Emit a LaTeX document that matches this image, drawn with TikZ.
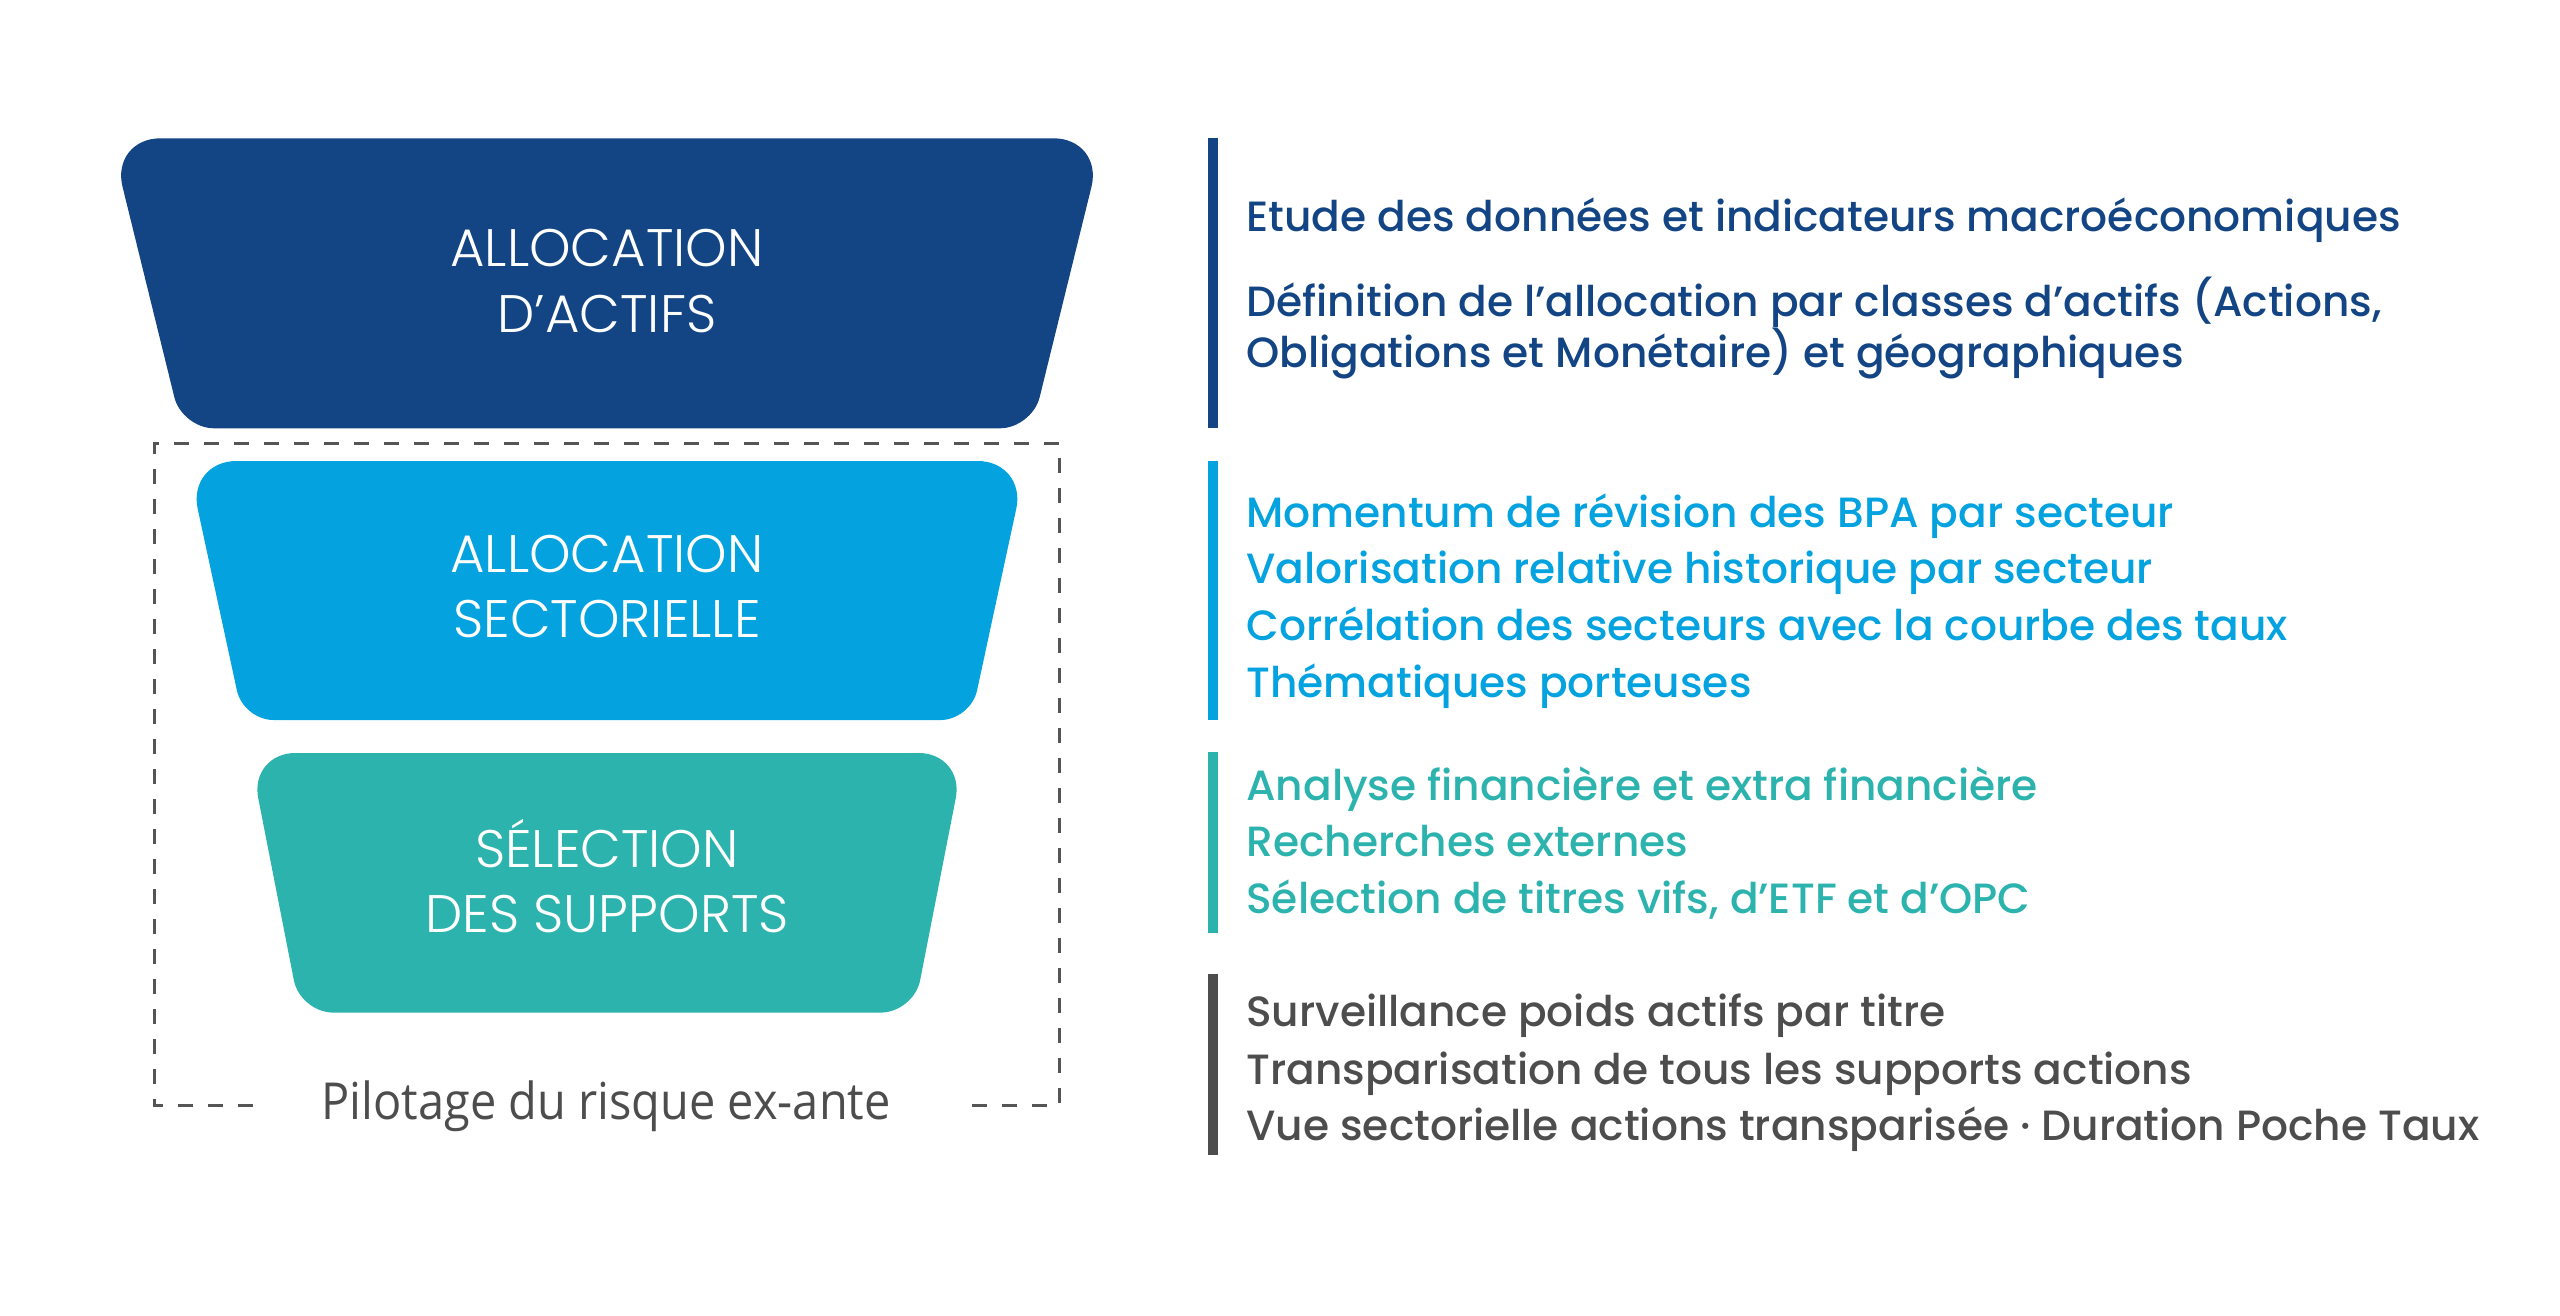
\documentclass[tikz,border=0pt]{standalone}
\usepackage{fontspec}
\setmainfont{Poppins Medium}
\newfontfamily\boxfont{Poppins Light}
\newfontfamily\pilfont{Open Sans}[FakeStretch=0.92]
\definecolor{navy}{HTML}{134585}
\definecolor{sky}{HTML}{04A3E0}
\definecolor{tealc}{HTML}{2DB3AE}
\definecolor{gry}{HTML}{4D4D4D}
\definecolor{dashc}{HTML}{555555}
\begin{document}
\begin{tikzpicture}[x=0.5pt,y=-0.5pt,
  boxlbl/.style={anchor=base, text=white, inner sep=0pt, font=\boxfont\fontsize{26.4}{30}\selectfont},
  item/.style={anchor=base west, inner sep=0pt, font=\fontsize{21.15}{26}\selectfont},
  sidebar/.style={line width=4.75pt},
  pil/.style={anchor=base, inner sep=0pt, text=gry, font=\pilfont\fontsize{25.5}{30}\selectfont},
  frame/.style={draw=dashc, line width=1.5pt, dash pattern=on 7.5pt off 7.5pt}]
\useasboundingbox (0,0) rectangle (2560,1316);

% funnel level 1
\fill[navy] (607,138.3) [rounded corners=25pt] -- (1103.4,138.3) -- (1067.7,283.3)
  [rounded corners=16pt] -- (1032,428.3) -- (182,428.3) -- (146.3,283.3)
  [rounded corners=25pt] -- (110.6,138.3) -- cycle;
% funnel level 2
\fill[sky] (607,461) [rounded corners=24.5pt] -- (1026.6,461) -- (998.6,590.5)
  [rounded corners=15pt] -- (970.7,720) -- (243.3,720) -- (215.3,590.5)
  [rounded corners=24.5pt] -- (187.4,461) -- cycle;
% funnel level 3
\fill[tealc] (607,753) [rounded corners=23pt] -- (964.6,753) -- (939.2,882.8)
  [rounded corners=16.5pt] -- (913.8,1012.6) -- (300.2,1012.6) -- (274.8,882.8)
  [rounded corners=23pt] -- (249.4,753) -- cycle;

% dashed frame
\coordinate (fbl) at (253,1105);
\coordinate (fbr) at (962,1105);
\draw[frame] (fbl) -- (154.3,1105) -- (154.3,443.3) -- (1059.6,443.3) -- (1059.6,1105) -- (fbr);

% box labels
\node[boxlbl] (b1a) at (607,266.4) {ALLOCATION};
\node[boxlbl] (b1b) at (607,332.7) {D’ACTIFS};
\node[boxlbl] (b2a) at (607,572.8) {ALLOCATION};
\node[boxlbl] (b2b) at (607,637.8) {SECTORIELLE};
\node[boxlbl] (b3a) at (607,867) {SÉLECTION};
\node[boxlbl] (b3b) at (607,932.8) {DES SUPPORTS};
\node[pil] (pilot) at (606,1119.6) {Pilotage du risque ex-ante};

% side bars
\coordinate (s1t) at (1213,138.3); \coordinate (s1b) at (1213,428.3);
\coordinate (s2t) at (1213,461);   \coordinate (s2b) at (1213,720);
\coordinate (s3t) at (1213,752);   \coordinate (s3b) at (1213,933);
\coordinate (s4t) at (1213,974);   \coordinate (s4b) at (1213,1155);
\draw[sidebar, navy] (s1t) -- (s1b);
\draw[sidebar, sky] (s2t) -- (s2b);
\draw[sidebar, tealc] (s3t) -- (s3b);
\draw[sidebar, gry] (s4t) -- (s4b);

% texts
\node[item, text=navy] (t11) at (1246,232) {Etude des données et indicateurs macroéconomiques};
\node[item, text=navy] (t12) at (1246,317) {Définition de l’allocation par classes d’actifs (Actions,};
\node[item, text=navy] (t13) at (1246,367) {Obligations et Monétaire) et géographiques};

\node[item, text=sky] (t21) at (1246,527) {Momentum de révision des BPA par secteur};
\node[item, text=sky] (t22) at (1246,583.5) {Valorisation relative historique par secteur};
\node[item, text=sky] (t23) at (1246,640) {Corrélation des secteurs avec la courbe des taux};
\node[item, text=sky] (t24) at (1246,697) {Thématiques porteuses};

\node[item, text=tealc] (t31) at (1246,800) {Analyse financière et extra financière};
\node[item, text=tealc] (t32) at (1246,856.7) {Recherches externes};
\node[item, text=tealc] (t33) at (1246,913.3) {Sélection de titres vifs, d’ETF et d’OPC};

\node[item, text=gry] (t41) at (1246,1026) {Surveillance poids actifs par titre};
\node[item, text=gry] (t42) at (1246,1084) {Transparisation de tous les supports actions};
\node[item, text=gry] (t43) at (1246,1140.7) {Vue sectorielle actions transparisée · Duration Poche Taux};
\end{tikzpicture}
\end{document}
